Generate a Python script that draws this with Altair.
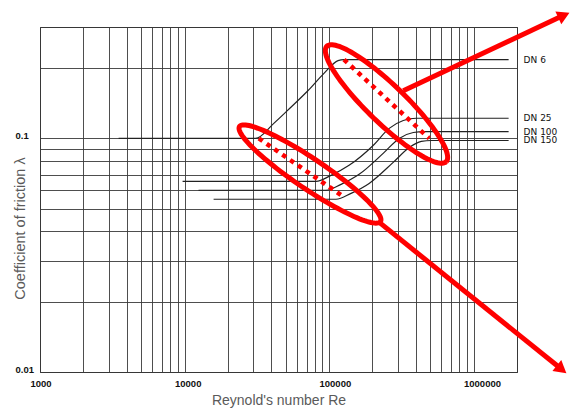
import altair as alt
import numpy as np
import pandas as pd

# ---------------- data ----------------
re_ticks = [1000, 10000, 100000, 1000000]
lam_ticks = [0.01, 0.1]
re_grid = [1000, 2000, 3000, 4000, 5000, 6000, 7000, 8000, 9000,
           10000, 20000, 30000, 40000, 50000, 60000, 70000, 80000, 90000,
           100000, 200000, 300000, 400000, 500000, 600000, 700000, 800000, 900000,
           1000000, 2000000]
lam_grid = [0.01, 0.02, 0.03, 0.04, 0.05, 0.06, 0.07, 0.08, 0.09, 0.1, 0.2, 0.3]

series = ["DN 6", "DN 25", "DN 100", "DN 150"]
dn6_re = [3500, 31000, 41500, 54500, 71400, 92300, 115500, 127000, 1750000]
dn6_lam = [0.1, 0.1, 0.116, 0.136, 0.160, 0.190, 0.2155, 0.2176, 0.2176]
dn25_re = [9700, 81300, 103300, 137700, 202000, 261000, 326600, 401700, 1750000]
dn25_lam = [0.0655, 0.0655, 0.0695, 0.0767, 0.0933, 0.1104, 0.1194, 0.122, 0.122]
dn100_re = [12500, 95300, 121200, 161600, 237100, 306000, 383000, 456700, 1750000]
dn100_lam = [0.060, 0.060, 0.0636, 0.0702, 0.0863, 0.100, 0.106, 0.107, 0.107]
dn150_re = [15900, 111800, 142200, 189600, 278200, 359400, 435400, 510900, 1750000]
dn150_lam = [0.0549, 0.0549, 0.0582, 0.0642, 0.0790, 0.0915, 0.0971, 0.098, 0.098]

# red dotted connecting lines (start / end of transition)
dot_names = ["lower", "lower", "upper", "upper"]
dot_re = [32700, 125000, 127000, 494000]
dot_lam = [0.1, 0.0565, 0.2176, 0.1]

# red ellipses: centre (Re, lambda), semi-axes (px), tilt (deg)
ell_names = ["lower", "upper"]
ell_re = [73870, 250000]
ell_lam = [0.0704, 0.1404]
ell_a = [85, 83]
ell_b = [15, 19]
ell_ang = [34, 44]

# red arrows
arr_re0 = [326600, 222000]
arr_lam0 = [0.160, 0.0438]
arr_re1 = [4100000, 3970000]
arr_lam1 = [0.334, 0.0104]
arr_angle = [65.2, 128.8]

W, H = 477, 345
X_DOM = [1000, 2000000]
Y_DOM = [0.01, 0.3]
PXD_X = W / np.log10(X_DOM[1] / X_DOM[0])
PXD_Y = H / np.log10(Y_DOM[1] / Y_DOM[0])

# ---------------- tables ----------------
rows = []
for name, rs, ls in zip(series, [dn6_re, dn25_re, dn100_re, dn150_re],
                        [dn6_lam, dn25_lam, dn100_lam, dn150_lam]):
    for i, (r, l) in enumerate(zip(rs, ls)):
        rows.append({"re": r, "lam": l, "series": name, "k": i})
curves = pd.DataFrame(rows)
labels = curves.groupby("series", sort=False).last().reset_index()

dots = pd.DataFrame({"re": dot_re, "lam": dot_lam, "name": dot_names})

erows = []
for n, cr, cl, a, b, ang in zip(ell_names, ell_re, ell_lam, ell_a, ell_b, ell_ang):
    t = np.linspace(0, 2 * np.pi, 121)
    th = np.radians(ang)
    dx = a * np.cos(th) * np.cos(t) - b * np.sin(th) * np.sin(t)
    dy = a * np.sin(th) * np.cos(t) + b * np.cos(th) * np.sin(t)
    for k in range(len(t)):
        erows.append({"re": cr * 10 ** (dx[k] / PXD_X),
                      "lam": cl * 10 ** (-dy[k] / PXD_Y), "name": n, "k": k})
ells = pd.DataFrame(erows)

arrows = pd.DataFrame({"re": arr_re0, "lam": arr_lam0, "re2": arr_re1,
                       "lam2": arr_lam1, "ang": arr_angle})

# ---------------- encodings ----------------
x_lab = "indexof([" + ",".join(str(v) for v in re_ticks) + "], datum.value) >= 0 ? format(datum.value, 'd') : ''"
y_lab = "indexof([" + ",".join(str(v) for v in lam_ticks) + "], datum.value) >= 0 ? format(datum.value, '~g') : ''"

x_axis = alt.Axis(values=re_grid, grid=True, ticks=False, tickSize=0, domain=False,
                  labelExpr=x_lab, labelAlign="left", labelOffset=-10,
                  labelBaseline="alphabetic", labelPadding=14, labelOverlap=False,
                  labelFlush=False, title="Reynold's number Re", titleY=32,
                  titleBaseline="alphabetic", titleFontSize=14)
y_axis = alt.Axis(values=lam_grid, grid=True, ticks=False, tickSize=0, domain=False,
                  labelExpr=y_lab, labelAlign="left", labelPadding=25,
                  labelBaseline="alphabetic", labelOverlap=False, labelFlush=False,
                  title="Coefficient of friction λ", titleX=-16, titleY=201,
                  titleAngle=270, titleAlign="center", titleBaseline="alphabetic",
                  titleFontSize=14.5)
xs = alt.Scale(type="log", domain=X_DOM, nice=False)
ys = alt.Scale(type="log", domain=Y_DOM, nice=False)

def X():
    return alt.X("re:Q", scale=xs, axis=x_axis)

def Y():
    return alt.Y("lam:Q", scale=ys, axis=y_axis)

curve_layer = alt.Chart(curves).mark_line(
    color="#222222", strokeWidth=1.2, interpolate="monotone"
).encode(x=X(), y=Y(), detail="series:N", order="k:Q")

label_layer = alt.Chart(labels).mark_text(
    align="left", baseline="middle", dx=15, fontSize=9,
    font="DejaVu Sans", color="#111111"
).encode(x=X(), y=Y(), text="series:N")

dot_layer = alt.Chart(dots).mark_line(
    color="#ff0000", strokeWidth=4.5, strokeDash=[4.5, 5], strokeCap="butt"
).encode(x=X(), y=Y(), detail="name:N")

ell_layer = alt.Chart(ells).mark_line(
    color="#ff0000", strokeWidth=5
).encode(x=X(), y=Y(), detail="name:N", order="k:Q")

arrow_layer = alt.Chart(arrows).mark_rule(
    color="#ff0000", strokeWidth=5
).encode(x=X(), y=Y(), x2="re2:Q", y2="lam2:Q")

head_layer = alt.Chart(arrows).mark_point(
    shape="triangle", filled=True, color="#ff0000", size=200, opacity=1
).encode(x=alt.X("re2:Q", scale=xs, axis=x_axis),
         y=alt.Y("lam2:Q", scale=ys, axis=y_axis),
         angle=alt.Angle("ang:Q", scale=None))

chart = alt.layer(
    curve_layer, label_layer, dot_layer, ell_layer, arrow_layer, head_layer
).properties(
    width=W, height=H,
    autosize=alt.AutoSizeParams(type="none"),
    padding={"left": 32, "top": 19, "right": 53, "bottom": 36},
).configure_view(
    stroke="#222222", strokeWidth=1
).configure_axis(
    gridColor="#3a3a3a", gridWidth=0.9, gridOpacity=1,
    labelFont="Liberation Sans", labelFontWeight="bold", labelFontSize=9.5,
    labelColor="#111111",
    titleFont="Liberation Sans", titleFontWeight="normal", titleColor="#5a5a5a",
)

chart.save("out.html", embed_options={"renderer": "svg", "actions": False})
